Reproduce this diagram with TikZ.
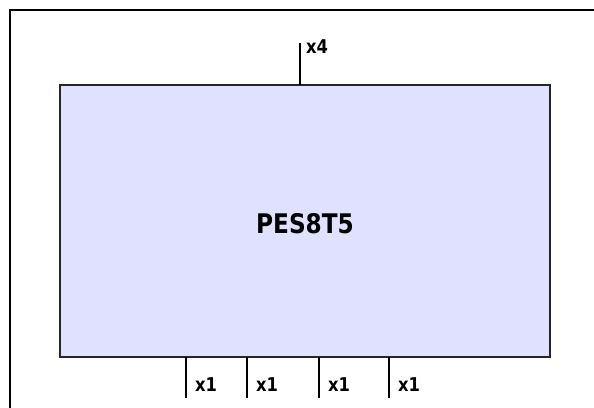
\documentclass[tikz,border=0pt]{standalone}
\usepackage{fontspec}
\newfontfamily\labfont[FakeStretch=0.86]{DejaVu Sans}
\definecolor{boxfill}{RGB}{224,224,255}
\begin{document}
\begin{tikzpicture}[x=1pt,y=-1pt,
  frameline/.style={line width=2.6pt,black},
  blockbox/.style={draw=black!85,line width=2pt,fill=boxfill},
  stub/.style={line width=1.8pt,black},
  portlabel/.style={font=\labfont\bfseries\fontsize{19}{19}\selectfont,anchor=west,inner sep=0pt},
  titlelabel/.style={font=\labfont\bfseries\fontsize{27}{27}\selectfont,inner sep=0pt}]
\useasboundingbox (0,0) rectangle (594,407);
% outer frame (cropped)
\coordinate (fa) at (10,408);
\coordinate (fb) at (10,10);
\coordinate (fc) at (595,10);
\draw[frameline] (fa) -- (fb) -- (fc);
% block
\node[blockbox,minimum width=490pt,minimum height=272pt,inner sep=0pt] (blk) at (305,221) {};
\node[titlelabel] (title) at (305,224) {PES8T5};
% top port
\coordinate (t0) at (300,85);
\coordinate (t1) at (300,43);
\draw[stub] (t0) -- (t1);
\node[portlabel] (tl) at (306,47) {x4};
% bottom ports
\foreach \px [count=\i] in {186,247,319,389} {
  \coordinate (b\i a) at (\px,357);
  \coordinate (b\i b) at (\px,398);
  \draw[stub] (b\i a) -- (b\i b);
  \node[portlabel] (bl\i) at (\px+9,385) {x1};
}
\end{tikzpicture}
\end{document}
